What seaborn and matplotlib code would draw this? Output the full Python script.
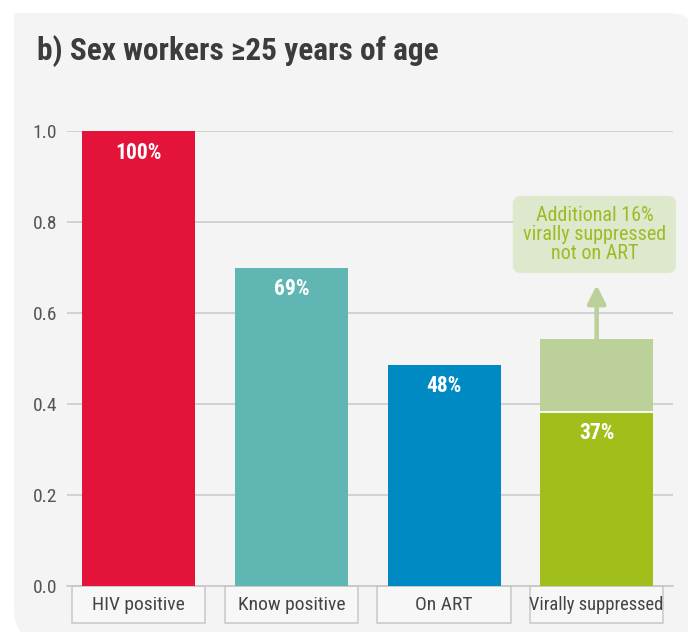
import matplotlib
matplotlib.use("Agg")
import matplotlib.pyplot as plt
import matplotlib.transforms as mtransforms
from matplotlib import font_manager
from matplotlib.patches import FancyBboxPatch, Rectangle, FancyArrowPatch
import seaborn as sns

# ---- data ----
categories = ["HIV positive", "Know positive", "On ART", "Virally suppressed"]
values = [1.0, 0.70, 0.486, 0.383]
bar_labels = ["100%", "69%", "48%", "37%"]
additional_suppressed = 0.16
annotation_text = "Additional 16%\nvirally suppressed\nnot on ART"
title = "b) Sex workers \u226525 years of age"
yticks = [0.0, 0.2, 0.4, 0.6, 0.8, 1.0]

# ---- fonts: prefer a condensed sans ----
sns.set_theme(style="white")
entries = font_manager.fontManager.ttflist
names = {f.name for f in entries}
stretch = "normal"
if "Liberation Sans Narrow" in names:
    primary = "Liberation Sans Narrow"
elif "Roboto Condensed" in names:
    primary = "Roboto Condensed"
elif any(f.name == "DejaVu Sans" and str(f.stretch) in ("condensed", "semi-condensed", "75", "87.5")
         for f in entries):
    primary = "DejaVu Sans"
    stretch = "condensed"
else:
    primary = "Roboto" if "Roboto" in names else "DejaVu Sans"
FONT = [primary, "DejaVu Sans"]
plt.rcParams["font.family"] = FONT
plt.rcParams["font.stretch"] = stretch

colors = ["#e4133a", "#5fb6b3", "#008ac4", "#a0bf1a"]
light_green = "#bcd19a"
panel_color = "#f4f4f4"
grid_color = "#c8c8c8"

W, H = 688, 632
fig = plt.figure(figsize=(W / 100, H / 100), dpi=100)
fig.patch.set_facecolor("white")


def px(x, y):
    return x / 100, (H - y) / 100


R = 30
x0, y0 = px(14, 13)
x1, y1 = px(698, 640)
panel = FancyBboxPatch((x0, y1), x1 - x0, y0 - y1,
                       boxstyle=f"round,pad=0,rounding_size={R/100}",
                       transform=fig.dpi_scale_trans, facecolor=panel_color,
                       edgecolor="none", zorder=-5)
fig.patches.append(panel)
for (ax_, ay_) in [(14, 13), (640, 600)]:
    rx, ry = px(ax_, ay_ + 45)
    fig.patches.append(Rectangle((rx, ry), 0.45, 0.45, transform=fig.dpi_scale_trans,
                                 facecolor=panel_color, edgecolor="none", zorder=-5))

left, right, bottom, top = 67, 673, 586, 131
ax = fig.add_axes([left / W, 1 - bottom / H, (right - left) / W, (bottom - top) / H])
ax.set_facecolor("none")
ax.set_zorder(1)

bar_w = 0.74
totals = values[:3] + [values[3] + additional_suppressed]
sns.barplot(x=categories, y=totals, hue=categories,
            palette=colors[:3] + [light_green], legend=False,
            width=bar_w, saturation=1, ax=ax, zorder=3, edgecolor="none")
sns.barplot(x=categories, y=values, hue=categories,
            palette=colors, legend=False,
            width=bar_w, saturation=1, ax=ax, zorder=3, edgecolor="none")
ax.hlines(values[3], 3 - bar_w / 2, 3 + bar_w / 2, color="white", lw=1.3, zorder=4)

ax.set_xlim(-0.47, 3.50)
ax.set_ylim(0, 1.0)
ax.set_yticks(yticks)
ax.set_yticklabels([f"{t:.1f}" for t in yticks], fontsize=14, color="#555555")
ax.tick_params(axis="y", length=0, pad=7)
ax.set_xticks([])
ax.set_xlabel("")
ax.set_ylabel("")
ax.yaxis.grid(True, color=grid_color, lw=1.1, zorder=1)
ax.set_axisbelow(True)
for s in ["top", "right", "left"]:
    ax.spines[s].set_visible(False)
ax.spines["bottom"].set_color(grid_color)
ax.spines["bottom"].set_linewidth(1.1)

for i, (v, lab) in enumerate(zip(values, bar_labels)):
    ax.annotate(lab, xy=(i, v), xytext=(0, -15.5), textcoords="offset points",
                ha="center", va="center", color="white", fontsize=15.5,
                fontweight="bold", zorder=5)

trans = mtransforms.blended_transform_factory(ax.transData, ax.transAxes)
box_half = 0.436
box_h = 37 / (bottom - top)
cat_sizes = [14, 14, 14, 13.3]
for i, cat in enumerate(categories):
    ax.add_patch(Rectangle((i - box_half, -box_h), 2 * box_half, box_h,
                           transform=trans, facecolor="#f7f7f7",
                           edgecolor=grid_color, lw=1.1, clip_on=False, zorder=2))
    ax.text(i, -box_h / 2, cat, transform=trans, ha="center", va="center",
            fontsize=cat_sizes[i], color="#444444", clip_on=False)

arrow = FancyArrowPatch((3, totals[3]), (3, 0.6615),
                        arrowstyle="-|>,head_length=0.6,head_width=0.3",
                        mutation_scale=18, color=light_green, lw=3.3,
                        shrinkA=0, shrinkB=0, zorder=4)
ax.add_patch(arrow)
ax.text(2.985, 0.7725, annotation_text, ha="center", va="center",
        fontsize=14.5, color="#9dbb24", linespacing=1.0,
        bbox=dict(boxstyle="round,pad=0.5,rounding_size=0.4",
                  facecolor="#dde8cc", edgecolor="none"), zorder=5)

fig.text(37 / W, 1 - 51 / H, title, ha="left", va="center", fontsize=22.5,
         fontweight="bold", color="#3c3c3c")

fig.savefig("out.png", dpi=100)
